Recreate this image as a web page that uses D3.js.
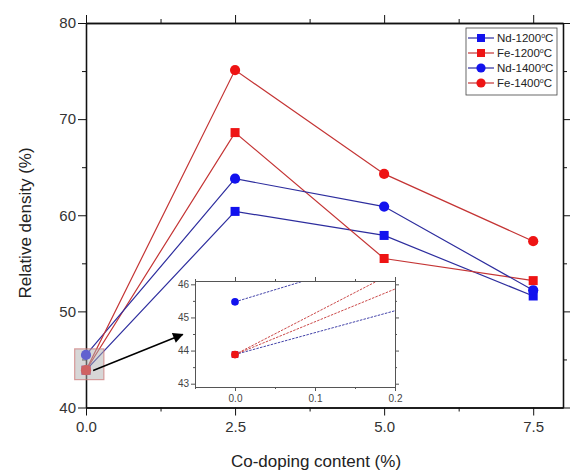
<!DOCTYPE html>
<html>
<head>
<meta charset="utf-8">
<script src="https://d3js.org/d3.v7.min.js"></script>
<style>
  body { margin: 0; background: white; }
  svg { background: white; }
  text { font-family: "Liberation Sans", Arial, sans-serif; fill: #222; }
  .axis path, .axis line { stroke: #111; }
  .inset .axis path, .inset .axis line { stroke: #555; }
</style>
</head>
<body>
<svg></svg>
<script>
  // data
  var doping = [0, 2.5, 5.0, 7.5];
  var nd1200 = [43.88, 60.4, 57.9, 51.6];
  var fe1200 = [43.88, 68.6, 55.5, 53.2];
  var nd1400 = [45.47, 63.8, 60.9, 52.2];
  var fe1400 = [43.88, 75.1, 64.3, 57.3];
  var seriesNames = ["Nd-1200", "Fe-1200", "Nd-1400", "Fe-1400"];
  var xTicks = [0, 2.5, 5.0, 7.5];
  var yTicks = [40, 50, 60, 70, 80];
  var insetXTicks = [0, 0.1, 0.2];
  var insetYTicks = [43, 44, 45, 46];

  //begin: layout config.
  var svgWidth = 570, svgHeight = 473,
      margin = {top: 23, right: 7, bottom: 65.5, left: 86},
      width = svgWidth - margin.left - margin.right,
      height = svgHeight - margin.top - margin.bottom,
      inset = {left: 195, top: 281, width: 200, height: 106};
  //end: layout config.

  var styles = [
    {symbol: "square", mark: "#1212ee", line: "#2d2d9e"},
    {symbol: "square", mark: "#ee1414", line: "#c43434"},
    {symbol: "circle", mark: "#1212ee", line: "#2d2d9e"},
    {symbol: "circle", mark: "#ee1414", line: "#c43434"}
  ];
  var series = [nd1200, fe1200, nd1400, fe1400].map(function(vals, i) {
    return {name: seriesNames[i], style: styles[i],
            values: vals.map(function(v, j) { return {x: doping[j], y: v}; })};
  });

  var svg = d3.select("svg").attr("width", svgWidth).attr("height", svgHeight);
  var x = d3.scaleLinear().domain([0, 8]).range([margin.left, margin.left + width]);
  var y = d3.scaleLinear().domain([40, 80]).range([margin.top + height, margin.top]);

  function drawAxes(g, xs, ys, majorX, minorX, majorY, minorY, len, fmtX, fmtY, fs, padX) {
    var x0 = xs.range()[0], x1 = xs.range()[1], y0 = ys.range()[0], y1 = ys.range()[1];
    var ax = g.append("g").attr("class", "axis");
    ax.append("g").attr("transform", "translate(0," + y0 + ")")
      .call(d3.axisBottom(xs).tickValues(majorX).tickSize(len).tickSizeOuter(0).tickFormat(fmtX).tickPadding(padX));
    ax.append("g").attr("transform", "translate(0," + y0 + ")")
      .call(d3.axisBottom(xs).tickValues(minorX).tickSize(len / 2).tickSizeOuter(0).tickFormat(""));
    ax.append("g").attr("transform", "translate(0," + y1 + ")")
      .call(d3.axisTop(xs).tickValues(majorX).tickSize(len).tickSizeOuter(0).tickFormat(""));
    ax.append("g").attr("transform", "translate(0," + y1 + ")")
      .call(d3.axisTop(xs).tickValues(minorX).tickSize(len / 2).tickSizeOuter(0).tickFormat(""));
    ax.append("g").attr("transform", "translate(" + x0 + ",0)")
      .call(d3.axisLeft(ys).tickValues(majorY).tickSize(len).tickSizeOuter(0).tickFormat(fmtY).tickPadding(2));
    ax.append("g").attr("transform", "translate(" + x0 + ",0)")
      .call(d3.axisLeft(ys).tickValues(minorY).tickSize(len / 2).tickSizeOuter(0).tickFormat(""));
    ax.append("g").attr("transform", "translate(" + x1 + ",0)")
      .call(d3.axisRight(ys).tickValues(majorY).tickSize(len).tickSizeOuter(0).tickFormat(""));
    ax.append("g").attr("transform", "translate(" + x1 + ",0)")
      .call(d3.axisRight(ys).tickValues(minorY).tickSize(len / 2).tickSizeOuter(0).tickFormat(""));
    ax.selectAll("text").style("font-size", fs + "px").style("font-family", "'Liberation Sans', Arial, sans-serif");
    return ax;
  }

  function drawMarks(g, s, xs, ys, size) {
    var sel = g.selectAll(null).data(s.values).enter();
    if (s.style.symbol === "square") {
      sel.append("rect")
        .attr("x", function(d) { return xs(d.x) - size / 2; })
        .attr("y", function(d) { return ys(d.y) - size / 2; })
        .attr("width", size).attr("height", size)
        .attr("fill", s.style.mark);
    } else {
      sel.append("circle")
        .attr("cx", function(d) { return xs(d.x); })
        .attr("cy", function(d) { return ys(d.y); })
        .attr("r", size / 2 + 0.6)
        .attr("fill", s.style.mark);
    }
  }

  // main frame and axes
  var mainAx = drawAxes(svg, x, y, xTicks, [1.25, 3.75, 6.25], yTicks, [45, 55, 65, 75], 8,
    d3.format(".1f"), d3.format("d"), 15, 6);
  mainAx.selectAll("path.domain").attr("stroke-width", 1.3);
  mainAx.selectAll("text").style("fill", "#333");

  var line = d3.line().x(function(d) { return x(d.x); }).y(function(d) { return y(d.y); });
  var plot = svg.append("g");
  series.forEach(function(s) {
    plot.append("path").datum(s.values).attr("d", line)
      .attr("fill", "none").attr("stroke", s.style.line).attr("stroke-width", 1.2);
  });
  series.forEach(function(s) { drawMarks(plot, s, x, y, 9); });

  // highlighted region
  svg.append("rect")
    .attr("x", x(-0.19)).attr("y", y(46.1))
    .attr("width", x(0.3) - x(-0.19)).attr("height", y(42.9) - y(46.1))
    .attr("fill", "rgba(175,175,175,0.5)")
    .attr("stroke", "rgba(205,120,120,0.7)").attr("stroke-width", 1.2);

  // arrow
  svg.append("defs").append("marker")
    .attr("id", "arrow").attr("viewBox", "0 0 10 10").attr("refX", 9).attr("refY", 5)
    .attr("markerWidth", 9).attr("markerHeight", 7).attr("orient", "auto")
    .append("path").attr("d", "M0,0L10,5L0,10z").attr("fill", "#000");
  svg.append("line")
    .attr("x1", x(0.12)).attr("y1", y(43.85))
    .attr("x2", x(1.62)).attr("y2", y(47.6))
    .attr("stroke", "#000").attr("stroke-width", 1.5)
    .attr("marker-end", "url(#arrow)");

  // inset
  var ix = d3.scaleLinear().domain([-0.05, 0.2]).range([inset.left, inset.left + inset.width]);
  var iy = d3.scaleLinear().domain([42.9, 46.1]).range([inset.top + inset.height, inset.top]);
  var insetG = svg.append("g").attr("class", "inset");
  insetG.append("rect").attr("x", inset.left).attr("y", inset.top)
    .attr("width", inset.width).attr("height", inset.height).attr("fill", "white");
  insetG.append("clipPath").attr("id", "insetClip").append("rect")
    .attr("x", inset.left).attr("y", inset.top).attr("width", inset.width).attr("height", inset.height);
  var iline = d3.line().x(function(d) { return ix(d.x); }).y(function(d) { return iy(d.y); });
  var ilines = insetG.append("g").attr("clip-path", "url(#insetClip)");
  series.forEach(function(s) {
    ilines.append("path").datum(s.values.slice(0, 2)).attr("d", iline)
      .attr("fill", "none").attr("stroke", s.style.line).attr("stroke-width", 0.9)
      .attr("stroke-dasharray", "2.5,1.2");
  });
  [0, 2, 3, 1].forEach(function(i) { drawMarks(ilines, {values: series[i].values.slice(0, 1), style: series[i].style}, ix, iy, 6.5); });
  var insetAx = drawAxes(insetG, ix, iy, insetXTicks, [-0.05, 0.05, 0.15], insetYTicks, [43.5, 44.5, 45.5], 4,
    d3.format(".1f"), d3.format("d"), 10, 4);
  insetAx.selectAll("text").style("fill", "#444");

  // axis titles
  svg.append("text").attr("x", 316).attr("y", 467).attr("text-anchor", "middle")
    .style("font-size", "17px").text("Co-doping content (%)");
  svg.append("text").attr("transform", "translate(31,223) rotate(-90)").attr("text-anchor", "middle")
    .style("font-size", "17px").text("Relative density (%)");

  // legend
  var legend = svg.append("g").attr("transform", "translate(466,28)");
  legend.append("rect").attr("width", 91).attr("height", 67)
    .attr("fill", "white").attr("stroke", "#444").attr("stroke-width", 0.8);
  series.forEach(function(s, i) {
    var row = legend.append("g").attr("transform", "translate(0," + (10 + i * 15) + ")");
    row.append("line").attr("x1", 2).attr("x2", 28).attr("stroke", s.style.line).attr("stroke-width", 1.2);
    drawMarks(row, {values: [{x: 15, y: 0}], style: s.style}, function(v) { return v; }, function(v) { return v; }, 8);
    var t = row.append("text").attr("x", 31).attr("y", 4).style("font-size", "11.5px");
    t.append("tspan").text(s.name);
    t.append("tspan").attr("dy", -4).style("font-size", "7px").text("o");
    t.append("tspan").attr("dy", 4).text("C");
  });
</script>
</body>
</html>
